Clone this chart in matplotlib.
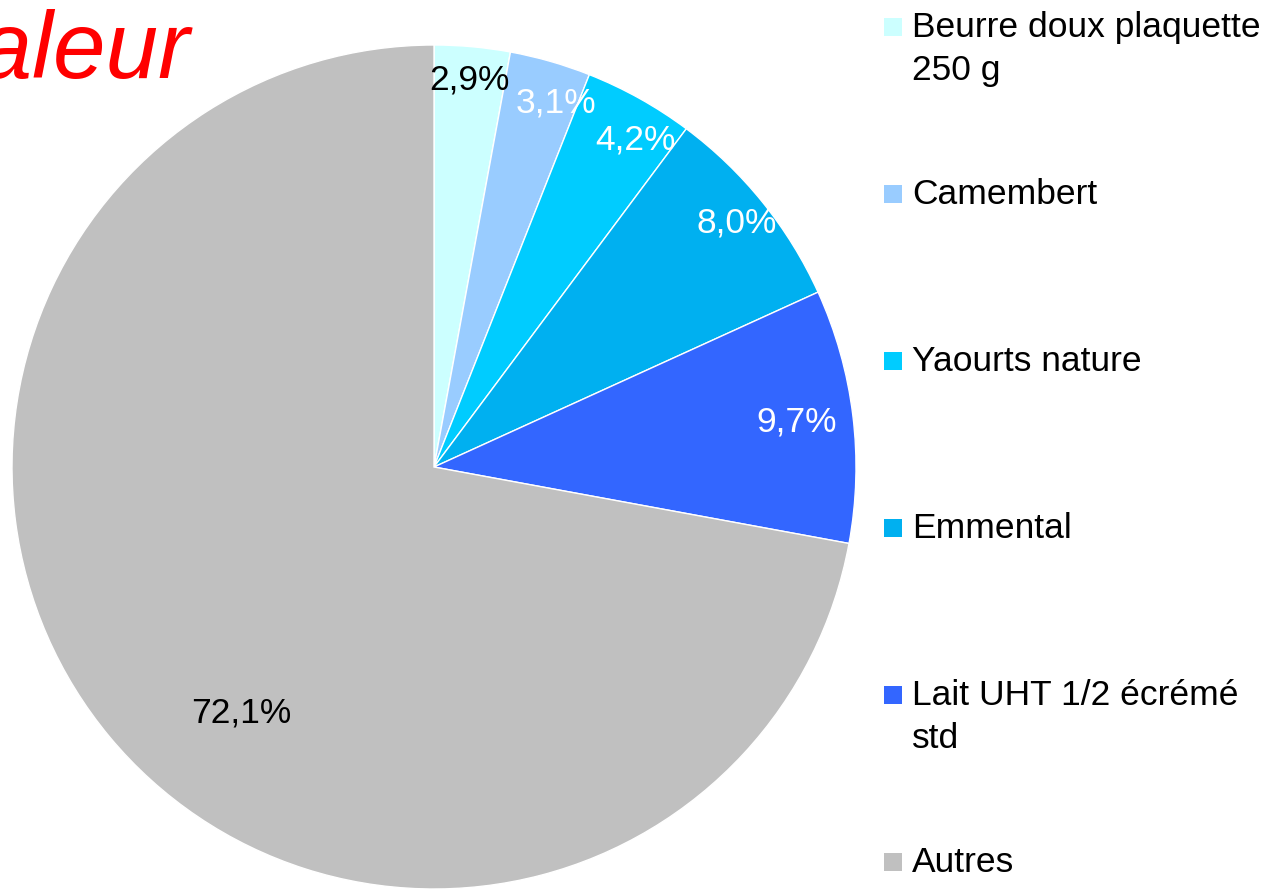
import numpy as np
import matplotlib.pyplot as plt
from matplotlib.patches import Rectangle

plt.rcParams['font.family'] = ['Liberation Sans', 'DejaVu Sans']

labels = ["Beurre doux plaquette\n250 g", "Camembert", "Yaourts nature", "Emmental",
          "Lait UHT 1/2 écrémé\nstd", "Autres"]
values = [2.9, 3.1, 4.2, 8.0, 9.7, 72.1]
colors = ["#CCFFFF", "#99CCFF", "#00CCFF", "#00B0F0", "#3366FF", "#C0C0C0"]
pct_colors = ["black", "white", "white", "white", "white", "black"]

W, H = 1278, 889
fig = plt.figure(figsize=(W / 100, H / 100), dpi=100)
ax = fig.add_axes([12 / W, 0 / H, 844 / W, 844 / H])

wedges, texts = ax.pie(values, colors=colors, startangle=90, counterclock=False,
                       wedgeprops=dict(edgecolor="white", linewidth=1))
ax.set_xlim(-1, 1)
ax.set_ylim(-1, 1)
ax.set_aspect("equal")
ax.axis("off")

fs = 25.5

# percentage labels (excel-like placement)
for i, (w, v) in enumerate(zip(wedges, values)):
    ang = (w.theta1 + w.theta2) / 2
    r = 0.92
    if i in (1, 2):
        r = 0.91
        ang -= 2.5
    if i == 4:
        r = 0.865
    if i == len(values) - 1:
        ang = -128
        r = 0.74
    ang = np.deg2rad(ang)
    ax.text(r * np.cos(ang), r * np.sin(ang), f"{v:.1f}%".replace(".", ","),
            ha="center", va="center", fontsize=fs, color=pct_colors[i])

# legend drawn by hand, one entry every ~167 px
y0 = 27
step = 167
for i, (lab, c) in enumerate(zip(labels, colors)):
    yc = y0 + i * step
    fig.patches.append(Rectangle((884 / W, 1 - (yc + 9) / H), 18 / W, 18 / H,
                                 transform=fig.transFigure, facecolor=c, edgecolor="none"))
    fig.text(912 / W, 1 - (yc - 16) / H, lab, ha="left", va="top", fontsize=fs,
             linespacing=1.38, color="black")

# title, partly cut off on the left
fig.text(190 / W, 1 - 78 / H, "Valeur", ha="right", va="baseline", fontsize=68,
         color="red", style="italic")

fig.savefig("out.png", dpi=100)
